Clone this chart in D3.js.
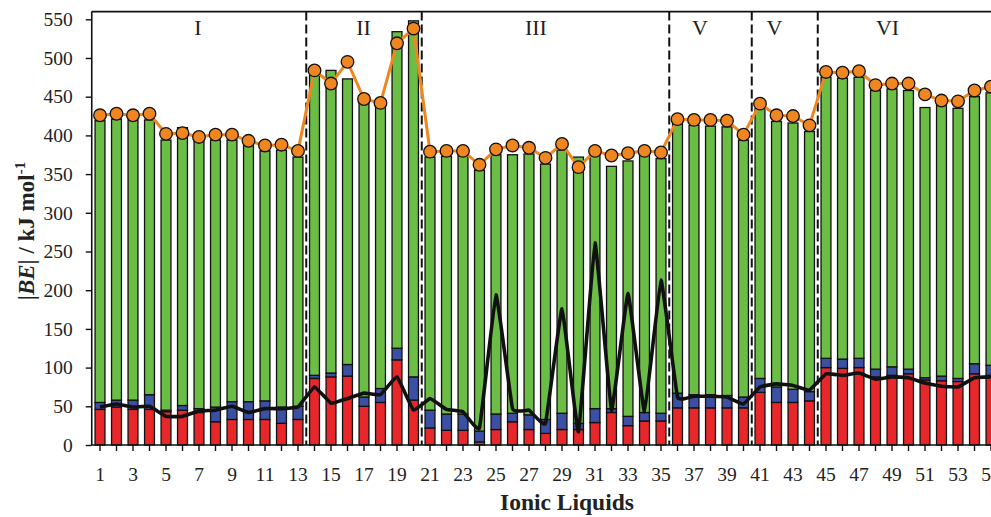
<!DOCTYPE html>
<html>
<head>
<meta charset="utf-8">
<script src="https://cdn.jsdelivr.net/npm/d3@7"></script>
<style>
  html, body { margin: 0; padding: 0; background: #fff; overflow: hidden; }
  svg { display: block; }
</style>
</head>
<body>
<svg id="chart" width="991" height="517"></svg>
<script>
// Ionic liquid numbers along the x axis
const ionicLiquids = [1, 2, 3, 4, 5, 6, 7, 8, 9, 10, 11, 12, 13, 14, 15, 16, 17, 18, 19, 20,
  21, 22, 23, 24, 25, 26, 27, 28, 29, 30, 31, 32, 33, 34, 35, 36, 37, 38, 39, 40,
  41, 42, 43, 44, 45, 46, 47, 48, 49, 50, 51, 52, 53, 54, 55];

// Stacked energy components, kJ/mol (bottom, middle, top)
const part1 = [46, 49, 46, 46, 43, 45, 42, 30, 33, 33, 33, 28, 33, 86, 88, 89, 50, 55, 110, 58,
  22, 19, 19, 4, 20, 30, 20, 15, 20, 20, 29, 42, 25, 31, 31, 48, 48, 48, 48, 48,
  68, 55, 55, 57, 100, 99, 100, 88, 90, 92, 84, 83, 82, 92, 90];
const part2 = [9, 9, 12, 19, 2, 6, 5, 19, 23, 23, 24, 21, 17, 4, 5, 15, 12, 18, 15, 30,
  23, 21, 21, 14, 20, 11, 19, 18, 21, 8, 18, 5, 12, 11, 10, 19, 17, 17, 16, 14,
  18, 20, 17, 12, 12, 12, 12, 10, 11, 6, 3, 6, 4, 13, 13];
const part3 = [364, 363, 362, 355, 349, 359, 345, 345, 338, 332, 323, 332, 322, 388, 391, 369, 382, 365, 409, 460,
  327, 333, 334, 337, 335, 334, 337, 330, 340, 344, 328, 313, 330, 333, 329, 348, 348, 347, 347, 332,
  349, 343, 344, 336, 363, 363, 363, 360, 359, 360, 349, 353, 349, 345, 352];

// |BE| line with markers
const bindingEnergy = [426, 428, 426, 428, 402, 403, 398, 401, 401, 393, 387, 388, 380, 484, 467, 495, 447, 442, 519, 538,
  379, 380, 380, 362, 382, 387, 384, 371, 389, 359, 380, 374, 377, 380, 378, 421, 420, 420, 419, 401,
  441, 426, 425, 413, 482, 481, 483, 465, 467, 467, 453, 445, 444, 458, 463];

// Second line series
const deltaEnergy = [49, 53, 49, 50, 37, 37, 44, 45, 50, 42, 47, 47, 49, 75, 54, 60, 67, 65, 88, 45,
  60, 46, 43, 22, 194, 47, 45, 28, 176, 17, 261, 45, 196, 43, 213, 62, 63, 63, 62, 53,
  75, 79, 77, 71, 92, 90, 93, 85, 88, 87, 80, 76, 75, 87, 88];

// Family groups: names, boundaries (between liquids) and label anchors (liquid number)
const groupNames = ["I", "II", "III", "V", "V", "VI"];
const groupBreaks = [13.5, 20.5, 35.5, 40.5, 44.5];
const groupLabelAt = [6.94, 16.97, 27.42, 37.36, 41.88, 48.73];

const yTicks = [0, 50, 100, 150, 200, 250, 300, 350, 400, 450, 500, 550];

const rows = ionicLiquids.map((id, i) => ({ id, p1: part1[i], p2: part2[i], p3: part3[i] }));

const svg = d3.select("#chart");
svg.append("rect").attr("width", 991).attr("height", 517).attr("fill", "#fff");

const left = 91.75, bottom = 445, frameTop = 11.6;
const step = 16.5;

const x = d3.scaleBand()
  .domain(ionicLiquids)
  .range([left, left + step * ionicLiquids.length])
  .paddingInner(0.4)
  .paddingOuter(0.2);

const xc = d3.scaleLinear()
  .domain([1, ionicLiquids.length])
  .range([x(1) + x.bandwidth() / 2, x(ionicLiquids.length) + x.bandwidth() / 2]);

const y = d3.scaleLinear().domain([0, 550]).range([bottom, 19.3]);

const serif = "'Liberation Serif', 'Times New Roman', serif";
const colors = { p1: "#e8272b", p2: "#3b4fa3", p3: "#6bbd45" };

// Stacked bars
const stack = d3.stack().keys(["p1", "p2", "p3"])(rows);
svg.append("g").selectAll("g")
  .data(stack)
  .join("g")
  .attr("fill", d => colors[d.key])
  .selectAll("rect")
  .data(d => d)
  .join("rect")
  .attr("x", d => x(d.data.id))
  .attr("width", x.bandwidth())
  .attr("y", d => y(d[1]))
  .attr("height", d => y(d[0]) - y(d[1]))
  .attr("stroke", "#111")
  .attr("stroke-width", 1.3);

// Dashed separators between families
svg.append("g").selectAll("line")
  .data(groupBreaks)
  .join("line")
  .attr("x1", d => xc(d)).attr("x2", d => xc(d))
  .attr("y1", frameTop).attr("y2", bottom)
  .attr("stroke", "#111")
  .attr("stroke-width", 2)
  .attr("stroke-dasharray", "9,4");

// Family labels
svg.append("g").selectAll("text")
  .data(groupNames)
  .join("text")
  .attr("x", (d, i) => xc(groupLabelAt[i]))
  .attr("y", 35)
  .attr("text-anchor", "middle")
  .attr("font-family", serif)
  .attr("font-size", 22)
  .attr("fill", "#222")
  .text(d => d);

// Second line series
svg.append("path")
  .datum(deltaEnergy)
  .attr("fill", "none")
  .attr("stroke", "#111")
  .attr("stroke-width", 3.6)
  .attr("stroke-linejoin", "round")
  .attr("d", d3.line().x((d, i) => xc(ionicLiquids[i])).y(d => y(d)).curve(d3.curveCardinal.tension(0.75)));

// |BE| line with markers
svg.append("path")
  .datum(bindingEnergy)
  .attr("fill", "none")
  .attr("stroke", "#f0861f")
  .attr("stroke-width", 3)
  .attr("d", d3.line().x((d, i) => xc(ionicLiquids[i])).y(d => y(d)));

svg.append("g").selectAll("circle")
  .data(bindingEnergy)
  .join("circle")
  .attr("cx", (d, i) => xc(ionicLiquids[i]))
  .attr("cy", d => y(d))
  .attr("r", 6.3)
  .attr("fill", "#f0861f")
  .attr("stroke", "#111")
  .attr("stroke-width", 1.3);

// Axes
const yAxis = svg.append("g")
  .attr("transform", `translate(${left},0)`)
  .call(d3.axisLeft(y).tickValues(yTicks).tickSize(6).tickPadding(13));
yAxis.select(".domain").remove();

const xAxis = svg.append("g")
  .attr("transform", `translate(0,${bottom})`)
  .call(d3.axisBottom(x).tickSize(6).tickPadding(16)
    .tickFormat(d => (d % 2 === 1 ? d : "")));
xAxis.select(".domain").remove();

[yAxis, xAxis].forEach(g => {
  g.selectAll("line").attr("stroke", "#111").attr("stroke-width", 1.4);
  g.selectAll("text").attr("font-family", serif).attr("font-size", 19.5).attr("fill", "#222");
});

// Plot frame: left axis, baseline and top border
svg.append("line").attr("x1", left).attr("x2", left).attr("y1", frameTop).attr("y2", bottom)
  .attr("stroke", "#111").attr("stroke-width", 1.6);
svg.append("line").attr("x1", left).attr("x2", 1100).attr("y1", bottom).attr("y2", bottom)
  .attr("stroke", "#111").attr("stroke-width", 1.6);
svg.append("line").attr("x1", left).attr("x2", 1100).attr("y1", frameTop).attr("y2", frameTop)
  .attr("stroke", "#111").attr("stroke-width", 1.6);

// Axis titles
svg.append("text")
  .attr("x", 567).attr("y", 510)
  .attr("text-anchor", "middle")
  .attr("font-family", serif)
  .attr("font-weight", "bold")
  .attr("font-size", 23.5)
  .attr("fill", "#222")
  .text("Ionic Liquids");

const yTitle = svg.append("text")
  .attr("transform", "translate(34,231) rotate(-90)")
  .attr("text-anchor", "middle")
  .attr("font-family", serif)
  .attr("font-weight", "bold")
  .attr("font-size", 23)
  .attr("fill", "#222");
yTitle.append("tspan").text("|");
yTitle.append("tspan").attr("font-style", "italic").text("BE");
yTitle.append("tspan").text("| / kJ mol");
yTitle.append("tspan").attr("font-size", 15).attr("dy", -9).text("-1");
</script>
</body>
</html>
